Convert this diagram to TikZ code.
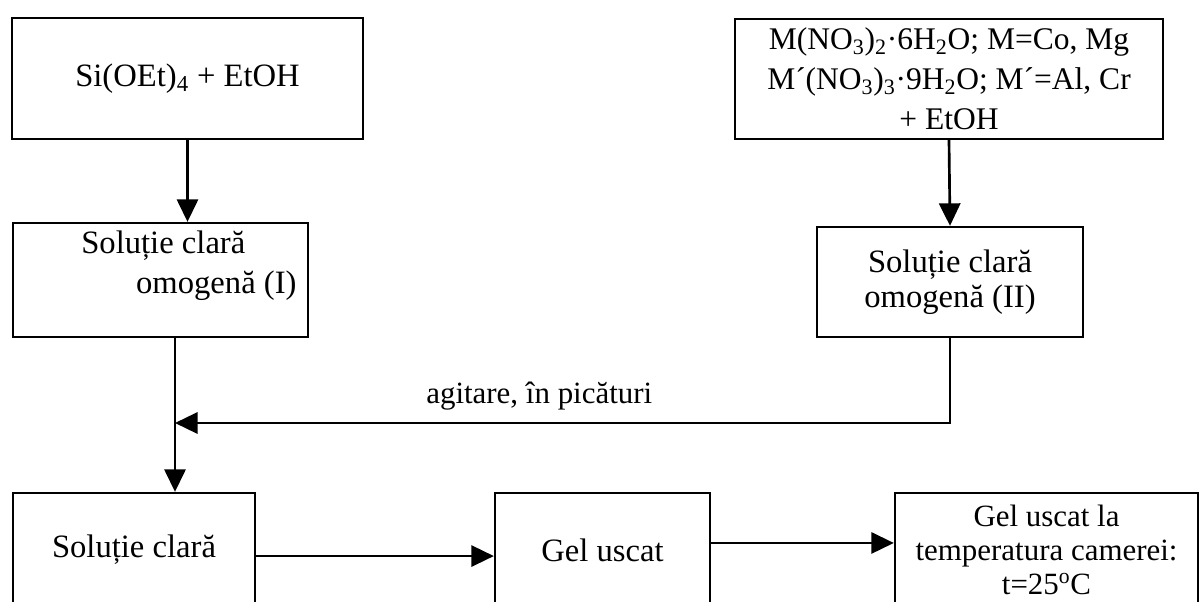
\documentclass[tikz,border=0pt]{standalone}
\usepackage{fontspec}
\setmainfont{Liberation Serif}
\usetikzlibrary{arrows.meta,positioning}
\tikzset{>={Triangle[length=16pt,width=15pt]},
  every node/.style={font=\fontsize{23.2pt}{28pt}\selectfont}}
\newcommand{\sub}[1]{\textsubscript{#1}}
\newcommand{\smallfont}{\fontsize{22pt}{26pt}\selectfont}

\begin{document}
\begin{tikzpicture}[x=0.025cm,y=-0.025cm,line width=1.9pt,block/.style={draw,line width=1.6pt,align=center,inner sep=3pt}]
\clip (0,0) rectangle (1201,602);
% starting solutions
\node[block,minimum width=8.775cm,minimum height=3.025cm] (teos) at (187.5,78.5) {Si(OEt)\sub{4} + EtOH};
\node[block,minimum width=10.7cm,minimum height=3cm,font=\fontsize{22.4pt}{28.5pt}\selectfont] (salts) at (949,79) {M(NO\sub{3})\sub{2}·6H\sub{2}O; M=Co, Mg\\M´(NO\sub{3})\sub{3}·9H\sub{2}O; M´=Al, Cr\\+ EtOH};
\node[block,minimum width=7.375cm,minimum height=2.85cm] (solI) at (160.5,280) {};
\node[anchor=north west,align=left,inner sep=0pt] (solItxt) at (80,230) {Soluție clară\\\hspace*{39pt}omogenă (I)};
\node[block,minimum width=6.65cm,minimum height=2.75cm] (solII) at (950,282) {Soluție clară\\[-3pt]omogenă (II)};
% products
\node[block,minimum width=6.05cm,minimum height=2.85cm] (sol) at (134,550) {Soluție clară};
\node[block,minimum width=5.375cm,minimum height=2.85cm] (gel) at (602.5,550) {Gel uscat};
\node[block,minimum width=7.575cm,minimum height=2.85cm,font=\smallfont] (dry) at (1046.5,550) {Gel uscat la\\[-2pt]temperatura camerei:\\[-2pt]t=25\textsuperscript{o}C};
\coordinate (join) at (175,423);
\draw[->] (teos.south)--(teos.south |- solI.north);
\draw[->] (salts.south)--(solII.north);
\draw (solI.south -| join)--(join);
\draw[->] (solII.south) |- node[pos=.765,above=5pt,font=\smallfont] (drip) {agitare, în picături} (join);
\draw[->] (join)--(join |- sol.north);
\draw[->] ([yshift=-4.3pt]sol.east)--([yshift=-4.3pt]gel.west);
\draw[->] ([yshift=5pt]gel.east)--([yshift=5pt]dry.west);
\end{tikzpicture}
\end{document}
